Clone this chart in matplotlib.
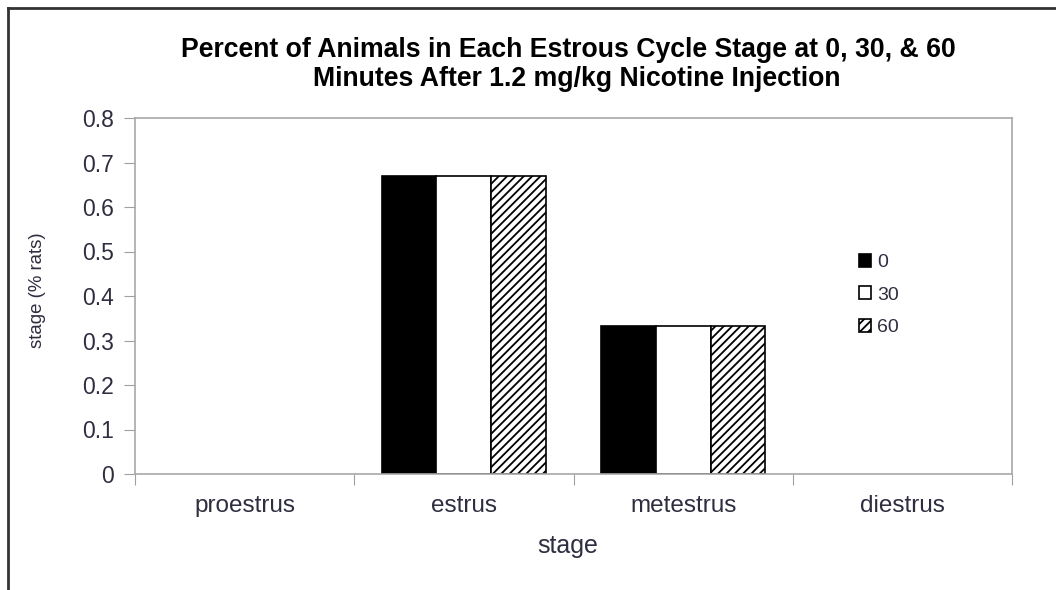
import numpy as np
import matplotlib
matplotlib.use('Agg')
import matplotlib.pyplot as plt
from matplotlib.lines import Line2D
from matplotlib.patches import Patch

plt.rcParams['font.family'] = ['Liberation Sans', 'DejaVu Sans']
plt.rcParams['hatch.linewidth'] = 1.3

stages = ['proestrus', 'estrus', 'metestrus', 'diestrus']
minutes = ['0', '30', '60']
vals_0 = [0, 0.67, 0.333, 0]
vals_30 = [0, 0.67, 0.333, 0]
vals_60 = [0, 0.67, 0.333, 0]
yticks = [0, 0.1, 0.2, 0.3, 0.4, 0.5, 0.6, 0.7, 0.8]

txt = '#2e2e40'
fig = plt.figure(figsize=(10.56, 5.9), dpi=100)
ax = fig.add_axes([135 / 1056, 116 / 590, 877 / 1056, 356 / 590])

x = np.arange(len(stages))
w = 0.25
styles = [dict(facecolor='black', edgecolor='black'),
          dict(facecolor='white', edgecolor='black'),
          dict(facecolor='white', edgecolor='black', hatch='////')]
handles = []
for i, (vals, st) in enumerate(zip([vals_0, vals_30, vals_60], styles)):
    lws = [1.2 if v > 0 else 0 for v in vals]
    ax.bar(x + (i - 1) * w, vals, w, linewidth=lws, **st)
    handles.append(Patch(linewidth=1.2, label=minutes[i], **st))

ax.set_xlim(-0.5, len(stages) - 0.5)
ax.set_ylim(0, 0.8)
ax.set_yticks(yticks)
ax.set_yticklabels(['0' if v == 0 else '%.1f' % v for v in yticks])
ax.set_xticks(np.arange(len(stages) + 1) - 0.5)
ax.set_xticklabels([])
ax.set_xticks(x, minor=True)
ax.set_xticklabels(stages, minor=True)
ax.tick_params(axis='x', which='minor', length=0, pad=15, labelsize=17.5, labelcolor=txt)
ax.tick_params(axis='x', which='major', length=8, color='#a0a0a0', direction='out')
ax.tick_params(axis='y', length=8, color='#a0a0a0', direction='out', labelsize=16.5, labelcolor=txt, pad=7)
for s in ax.spines.values():
    s.set_color('#a8a8a8')
    s.set_linewidth(1.2)

fig.text(568 / 1056, 1 - 546 / 590, 'stage', fontsize=18, color=txt, ha='center', va='center')
fig.text(38 / 1056, 1 - 290 / 590, 'stage (% rats)', fontsize=13.4, color=txt, ha='center', va='center',
         rotation=90)

fig.text(568 / 1056, 1 - 50 / 590, 'Percent of Animals in Each Estrous Cycle Stage at 0, 30, & 60',
         fontsize=19.2, fontweight='bold', ha='center', va='center')
fig.text(577 / 1056, 1 - 79 / 590, 'Minutes After 1.2 mg/kg Nicotine Injection',
         fontsize=19.2, fontweight='bold', ha='center', va='center')

leg = ax.legend(handles=handles, loc='center left', bbox_to_anchor=(0.825, 0.503), frameon=False,
                fontsize=14, handlelength=0.65, handleheight=0.65, handletextpad=0.3, labelspacing=0.78,
                borderpad=0, borderaxespad=0, labelcolor=txt)

# outer chart frame (left and top)
fig.add_artist(Line2D([8 / 1056, 8 / 1056], [0, 1 - 8 / 590], transform=fig.transFigure, color='#333333', lw=2))
fig.add_artist(Line2D([8 / 1056, 1], [1 - 8 / 590, 1 - 8 / 590], transform=fig.transFigure, color='#333333', lw=2))

fig.savefig('out.png', dpi=100)
